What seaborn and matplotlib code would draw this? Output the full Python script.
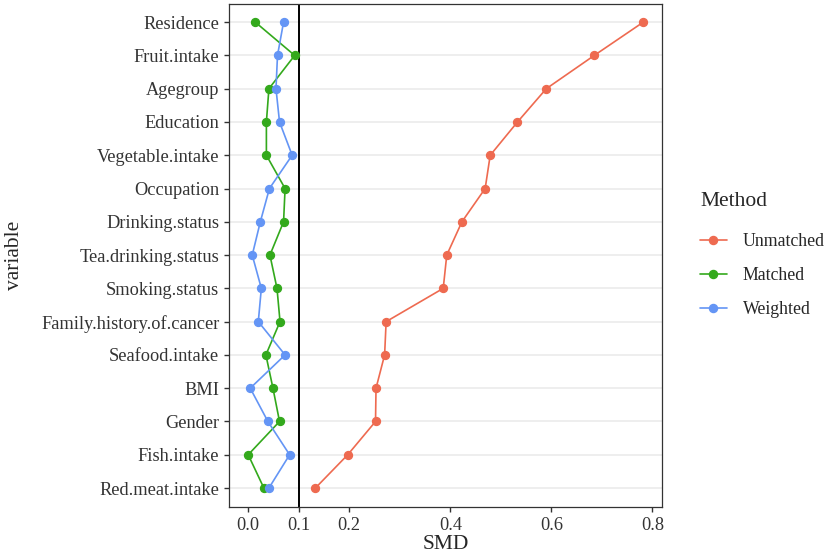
import matplotlib
matplotlib.use("Agg")
import matplotlib.pyplot as plt
from matplotlib.lines import Line2D
import seaborn as sns
import pandas as pd

variables = ["Residence", "Fruit.intake", "Agegroup", "Education", "Vegetable.intake",
             "Occupation", "Drinking.status", "Tea.drinking.status", "Smoking.status",
             "Family.history.of.cancer", "Seafood.intake", "BMI", "Gender",
             "Fish.intake", "Red.meat.intake"]
unmatched = [0.782, 0.685, 0.590, 0.533, 0.479, 0.469, 0.423, 0.393, 0.386,
             0.273, 0.270, 0.253, 0.252, 0.197, 0.133]
matched = [0.014, 0.092, 0.041, 0.036, 0.036, 0.073, 0.070, 0.043, 0.057,
           0.063, 0.035, 0.049, 0.062, 0.000, 0.031]
weighted = [0.070, 0.058, 0.055, 0.062, 0.087, 0.042, 0.024, 0.008, 0.026,
            0.020, 0.073, 0.004, 0.039, 0.082, 0.041]
methods = ["Unmatched", "Matched", "Weighted"]
colors = ["#EE6A50", "#33A91C", "#6495F5"]
xticks = [0.0, 0.1, 0.2, 0.4, 0.6, 0.8]

df = pd.DataFrame({
    "variable": variables * 3,
    "SMD": unmatched + matched + weighted,
    "Method": [m for m in methods for _ in variables],
})

sns.set_theme(style="white")
plt.rcParams["font.family"] = ["Liberation Serif", "DejaVu Serif"]

fig = plt.figure(figsize=(8.29, 5.59), dpi=100)
ax = fig.add_axes([229 / 829, 1 - 507 / 559, (662.5 - 229) / 829, 503.5 / 559])

ax.axvline(0.1, color="black", lw=1.4, zorder=1)
sns.pointplot(data=df, x="SMD", y="variable", hue="Method", order=variables,
              hue_order=methods, palette=colors, errorbar=None, dodge=False,
              markersize=5.8, linewidth=1.2, legend=False, ax=ax, zorder=3)

ax.set_xlim(-0.038, 0.82)
ax.set_ylim(len(variables) - 1 + 0.57, -0.56)
ax.set_xticks(xticks)
ax.set_xticklabels([f"{t:.1f}" for t in xticks])
ax.grid(False)
for i in range(len(variables)):
    ax.axhline(i, color="#EBEBEB", lw=1.2, zorder=0)

for s in ax.spines.values():
    s.set_color("#333333")
    s.set_linewidth(0.9)
ax.tick_params(axis="both", length=3.5, width=1, color="#333333",
               labelsize=13.2, labelcolor="#333333", pad=3.5, bottom=True, left=True)
ax.set_xlabel("SMD", fontsize=15.5, labelpad=1)
ax.set_ylabel("variable", fontsize=15.5, labelpad=12)

handles = [Line2D([], [], color=c, marker="o", markersize=5.8, lw=1.2) for c in colors]
leg = fig.legend(handles, methods, title="Method", loc="upper left",
                 bbox_to_anchor=(684 / 829, 1 - 176 / 559), frameon=False,
                 fontsize=12.8, title_fontsize=15.5, handlelength=1.5,
                 labelspacing=0.95, handletextpad=0.9)
leg._legend_box.align = "left"
leg._legend_box.sep = leg._legend_box.sep + 4

fig.savefig("out.png", dpi=100)
